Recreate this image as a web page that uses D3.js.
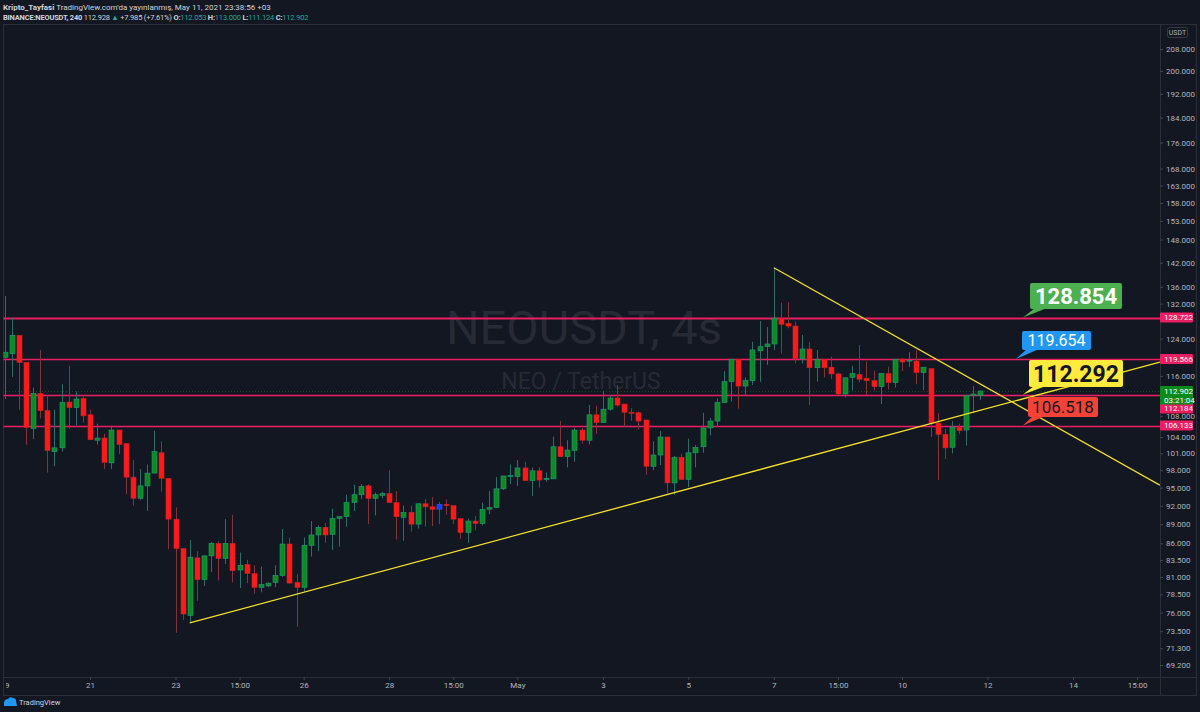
<!DOCTYPE html>
<html><head><meta charset="utf-8">
<script src="https://cdn.jsdelivr.net/npm/d3@7"></script>
<style>
html,body{margin:0;padding:0;background:#131722;}
svg{display:block;font-family:Roboto,"Noto Sans",sans-serif;}
</style></head>
<body><svg id="c" width="1200" height="712"></svg>
<script>
// ---- data (4h candles, BINANCE:NEOUSDT) ----
const firstCandleUTC = Date.UTC(2021, 3, 19, 0); // Apr 19 03:00 (+03)
const opens  = [119.9,120.7,124.7,118.8,105.6,112.4,109.0,101.3,102.0,110.7,109.6,111.4,108.2,103.4,103.8,99.3,105.3,102.8,96.8,93.2,95.3,97.5,101.1,96.6,89.8,85.2,75.6,83.8,80.6,84.1,86.0,83.7,86.0,82.0,82.8,81.5,79.5,79.7,80.2,81.2,85.9,80.2,79.5,85.7,87.3,88.5,87.4,89.9,90.2,92.5,93.8,95.3,93.2,93.7,94.0,92.5,90.1,90.9,89.0,92.3,91.8,91.4,92.2,92.0,89.9,87.7,89.5,89.1,91.4,91.7,94.8,96.9,96.9,98.4,96.2,97.9,96.4,96.5,102.2,100.4,101.5,105.3,103.4,108.2,106.7,109.3,111.5,110.3,108.7,108.6,107.2,98.7,100.7,104.0,95.8,100.3,96.4,101.1,102.2,105.7,107.0,110.6,114.8,119.5,113.9,115.0,121.3,122.2,122.8,128.6,127.4,126.8,119.6,121.7,117.7,119.5,117.8,116.4,112.3,115.7,116.3,115.5,115.0,113.8,116.5,114.6,119.5,119.1,119.1,116.7,117.5,106.6,104.5,102.1,105.8,105.3,112.0,112.053];
const highs  = [133.8,128.7,124.8,118.9,113.6,121.5,112.0,109.2,114.3,118.1,112.8,112.1,109.2,106.5,104.6,106.1,105.3,102.8,99.8,98.2,99.0,105.2,103.2,96.6,91.7,85.2,86.5,84.8,84.1,86.2,86.3,89.8,90.5,84.6,83.5,82.7,82.5,80.2,82.7,88.2,86.9,81.4,86.9,89.5,88.8,89.2,91.5,90.2,93.8,95.5,95.6,95.6,94.2,94.3,98.0,94.4,92.0,92.0,92.4,93.1,93.4,92.6,93.0,92.0,89.9,89.9,90.3,92.5,94.4,96.8,97.0,99.0,99.8,99.5,98.5,98.5,97.6,104.1,107.0,103.4,105.7,105.7,110.1,110.0,112.9,112.0,114.1,110.3,109.5,108.8,107.2,103.2,105.1,104.0,100.5,100.9,103.7,102.5,108.6,107.6,111.4,117.0,119.5,119.5,115.7,123.3,127.9,126.6,140.7,132.2,132.3,127.8,124.8,123.3,121.5,119.5,120.0,116.6,115.6,118.1,122.6,119.0,117.1,116.5,117.9,119.5,119.8,121.0,121.5,117.8,117.6,108.5,105.5,107.0,106.5,112.0,113.9,113.0];
const lows   = [111.3,115.8,109.1,102.6,103.6,107.5,97.6,98.7,101.3,105.5,106.2,106.7,103.4,102.6,98.2,98.2,100.9,93.9,92.0,92.9,91.1,97.5,94.3,85.1,73.3,75.0,74.6,77.6,79.7,81.7,80.5,82.9,80.2,79.4,80.1,78.6,78.8,79.5,79.5,81.0,80.1,74.1,78.9,84.0,84.8,86.1,85.0,85.5,88.6,91.1,93.1,89.0,90.4,93.2,92.5,86.6,86.4,87.8,88.3,88.6,88.7,89.0,90.5,89.0,86.7,86.1,88.0,88.8,90.6,91.6,94.6,95.6,95.3,96.2,93.6,95.0,96.0,96.5,100.4,98.5,99.5,102.8,102.6,104.6,106.7,109.0,109.8,105.9,107.0,105.4,97.2,98.0,98.9,94.0,93.8,96.4,95.1,98.5,101.1,104.3,105.9,110.6,110.8,109.4,112.1,114.1,114.7,118.3,121.5,120.7,126.3,118.6,118.6,110.1,114.8,115.7,115.3,112.1,111.6,113.0,114.7,112.1,113.1,110.3,113.2,113.6,117.0,117.9,114.3,113.1,104.0,96.3,100.0,101.0,104.5,102.4,108.5,111.124];
const closes = [121.0,124.7,118.8,105.8,112.4,109.0,101.5,102.0,110.6,109.6,111.3,108.0,103.5,103.8,99.4,105.3,102.6,96.8,93.2,95.3,97.5,101.3,96.6,89.8,85.2,75.8,83.9,80.6,84.1,86.0,83.7,86.0,81.9,82.7,81.5,79.5,79.9,80.1,81.2,85.9,80.1,79.5,85.7,87.3,88.5,87.3,89.9,90.2,92.5,93.8,95.2,93.2,93.8,94.0,92.5,90.2,90.9,89.0,92.3,91.8,91.4,92.2,92.0,89.8,87.7,89.5,89.1,91.4,91.7,94.8,97.0,97.1,98.4,96.2,97.9,96.3,96.6,102.2,100.4,101.6,105.3,103.4,108.2,106.7,109.3,111.5,110.1,108.7,108.5,107.0,98.7,100.7,104.0,95.8,100.3,96.4,101.1,102.1,105.7,107.0,110.6,114.8,119.5,113.9,115.0,121.5,122.2,122.8,128.6,127.2,126.8,119.6,121.7,117.7,119.5,117.7,116.4,112.3,115.6,116.5,115.3,115.0,113.8,116.5,114.6,119.5,118.9,119.3,116.7,117.8,106.6,104.5,102.0,105.8,105.2,112.0,112.3,112.902];
const blueCandles = [61];

const priceLevels = [128.722, 119.566, 112.184, 106.133];
const lastPrice = 112.902;
const countdown = "03:21:04";
const calloutTexts = ["128.854", "119.654", "112.292", "106.518"];
const calloutFills = ["#4caf50", "#2196f3", "#ffeb3b", "#f44336"];
const calloutInk   = ["#ffffff", "#ffffff", "#131722", "#131722"];

// trend lines: [candle index, price]
const lowerTrend = [[26, 74.6], [162.2, 118.9]];
const upperTrend = [[108, 140.7], [162.2, 95.4]];

const yTicks = [208,200,192,184,176,168,163,158,153,148,142,136,132,124,116,108,104,101,98,95,92,89,86,83.5,81,78.5,76,73.5,71.3,69.2];
const xTickTimes = ["2021-04-19T00:00Z","2021-04-21T00:00Z","2021-04-23T00:00Z","2021-04-24T12:00Z","2021-04-26T00:00Z","2021-04-28T00:00Z","2021-04-29T12:00Z","2021-05-01T00:00Z","2021-05-03T00:00Z","2021-05-05T00:00Z","2021-05-07T00:00Z","2021-05-08T12:00Z","2021-05-10T00:00Z","2021-05-12T00:00Z","2021-05-14T00:00Z","2021-05-15T12:00Z"];
const xTickLabels = ["19","21","23","15:00","26","28","15:00","May","3","5","7","15:00","10","12","14","15:00"];

// ---- layout ----
const W = 1200, H = 712;
const plotL = 3, plotR = 1160, plotT = 24, plotB = 677;
const H4 = 4 * 3600 * 1000;
const candles = opens.map((o, i) => ({i, t: new Date(firstCandleUTC + i * H4), o, h: highs[i], l: lows[i], c: closes[i]}));

const x = d3.scaleUtc()
  .domain([new Date(firstCandleUTC), new Date(firstCandleUTC + 137 * H4)])
  .range([4.55, 980.4]);
const xi = i => x(new Date(firstCandleUTC + i * H4));
const y = d3.scaleLog().domain([208, 69.2]).range([49, 665]);

const svg = d3.select("#c");
svg.append("rect").attr("width", W).attr("height", H).attr("fill", "#131722");

const defs = svg.append("defs");
defs.append("clipPath").attr("id", "plot").append("rect")
  .attr("x", plotL + 0.5).attr("y", plotT).attr("width", plotR - plotL - 0.5).attr("height", plotB - plotT);
defs.append("clipPath").attr("id", "taxis").append("rect")
  .attr("x", plotL + 3).attr("y", plotB).attr("width", plotR - plotL).attr("height", 20);

// header
const hdr = svg.append("g").attr("fill", "#d1d4dc");
const t1 = hdr.append("text").attr("x", 3).attr("y", 10).attr("font-size", 8);
t1.append("tspan").attr("font-weight", "bold").text("Kripto_Tayfasi");
t1.append("tspan").text(" TradingView.com'da yayınlanmış, May 11, 2021 23:38:56 +03");
const t2 = hdr.append("text").attr("x", 3).attr("y", 20).attr("font-size", 7.5).attr("letter-spacing", -0.2);
const green = "#26a69a";
t2.append("tspan").attr("font-weight", "bold").text("BINANCE:NEOUSDT, 240");
t2.append("tspan").text(" 112.928 ");
t2.append("tspan").attr("fill", green).text("▲");
t2.append("tspan").text(" +7.985 (+7.61%) ");
t2.append("tspan").attr("font-weight", "bold").text("O:");
t2.append("tspan").attr("fill", green).text("112.053 ");
t2.append("tspan").attr("font-weight", "bold").text("H:");
t2.append("tspan").attr("fill", green).text("113.000 ");
t2.append("tspan").attr("font-weight", "bold").text("L:");
t2.append("tspan").attr("fill", green).text("111.124 ");
t2.append("tspan").attr("font-weight", "bold").text("C:");
t2.append("tspan").attr("fill", green).text(lastPrice.toFixed(3));

// frame
const frame = svg.append("g").attr("stroke", "#2a2e39").attr("fill", "none");
frame.append("rect").attr("x", plotL + 0.5).attr("y", plotT + 0.5).attr("width", 1196 - plotL).attr("height", 695 - plotT);
frame.append("line").attr("x1", plotR + 0.5).attr("x2", plotR + 0.5).attr("y1", plotT).attr("y2", 695);
frame.append("line").attr("x1", plotL).attr("x2", 1196).attr("y1", plotB + 0.5).attr("y2", plotB + 0.5);

// watermark
const wm = svg.append("g").attr("clip-path", "url(#plot)").attr("text-anchor", "middle").attr("fill", "#262a35");
wm.append("text").attr("x", 584).attr("y", 344).attr("font-size", 47).text("NEOUSDT, 4s");
wm.append("text").attr("x", 581).attr("y", 389).attr("font-size", 23).text("NEO / TetherUS");

const plot = svg.append("g").attr("clip-path", "url(#plot)");

// current price dotted line
plot.append("line").attr("x1", plotL).attr("x2", plotR)
  .attr("y1", Math.round(y(lastPrice)) + 0.5).attr("y2", Math.round(y(lastPrice)) + 0.5)
  .attr("stroke", "#0d4a26").attr("stroke-dasharray", "1,2").attr("stroke-width", 1);

// horizontal levels
plot.selectAll("line.lvl").data(priceLevels).join("line").attr("class", "lvl")
  .attr("x1", plotL).attr("x2", plotR)
  .attr("y1", d => Math.round(y(d)) + 0.5).attr("y2", d => Math.round(y(d)) + 0.5)
  .attr("stroke", "#e91e63").attr("stroke-width", (d, i) => i === 0 ? 2 : 1.5);

// candles
const UP = {body: "#0d8a22", border: "#1f9c7c", wick: "#2f6d6a"};
const DN = {body: "#ff1a1a", border: "#d02020", wick: "#843434"};
const BL = {body: "#1e3cff", border: "#3050ff", wick: "#3a4a8a"};
const cg = plot.append("g");
const cs = cg.selectAll("g").data(candles).join("g");
const sty = d => blueCandles.includes(d.i) ? BL : (d.c >= d.o ? UP : DN);
cs.append("line")
  .attr("x1", d => Math.round(x(d.t)) + 0.5).attr("x2", d => Math.round(x(d.t)) + 0.5)
  .attr("y1", d => y(d.h)).attr("y2", d => y(d.l))
  .attr("stroke", d => sty(d).wick).attr("stroke-width", 1);
cs.append("rect")
  .attr("x", d => Math.round(x(d.t)) - 2)
  .attr("width", 5)
  .attr("y", d => y(Math.max(d.o, d.c)))
  .attr("height", d => Math.max(1, y(Math.min(d.o, d.c)) - y(Math.max(d.o, d.c))))
  .attr("fill", d => sty(d).body).attr("stroke", d => sty(d).border).attr("stroke-width", 0.6);

// trend lines
const tl = d3.line().x(p => xi(p[0])).y(p => y(p[1]));
plot.selectAll("path.trend").data([lowerTrend, upperTrend]).join("path").attr("class", "trend")
  .attr("d", tl).attr("fill", "none").attr("stroke", "#f5e12a").attr("stroke-width", 1.3);

// callouts
const boxes = [
  {x: 1030, y: 283, w: 92, h: 26, fs: 22, tipX: 1023},
  {x: 1022, y: 331, w: 69, h: 19, fs: 16, tipX: 1016},
  {x: 1029, y: 360, w: 94, h: 27, fs: 23, tipX: 1023},
  {x: 1028, y: 397, w: 70, h: 20, fs: 17, tipX: 1023}
];
const co = svg.append("g");
boxes.forEach((b, i) => {
  const tipY = y(priceLevels[i]);
  const g = co.append("g");
  g.append("path")
    .attr("d", `M${b.x + 5},${b.y + b.h - 1} L${b.tipX},${tipY} L${b.x + 17},${b.y + b.h - 1} Z`)
    .attr("fill", calloutFills[i]);
  g.append("rect").attr("x", b.x).attr("y", b.y).attr("width", b.w).attr("height", b.h).attr("rx", 2)
    .attr("fill", calloutFills[i]);
  g.append("text").attr("x", b.x + b.w / 2).attr("y", b.y + b.h / 2).attr("dy", "0.36em")
    .attr("text-anchor", "middle").attr("font-size", b.fs).attr("font-weight", i === 0 || i === 2 ? "bold" : "normal")
    .attr("fill", calloutInk[i]).text(calloutTexts[i]);
});

// y axis
const ya = svg.append("g").attr("transform", `translate(${plotR},0)`)
  .call(d3.axisRight(y).tickValues(yTicks).tickFormat(d => d.toFixed(3)).tickSize(3).tickPadding(3));
ya.select(".domain").remove();
ya.selectAll("line").attr("stroke", "#434651");
ya.selectAll("text").attr("fill", "#b2b5be").attr("font-size", 8).attr("font-family", "Roboto,sans-serif");

// axis price labels
const lbl = svg.append("g").attr("font-size", 8).attr("text-anchor", "start");
const axisTags = [
  {v: priceLevels[0], yc: y(priceLevels[0]), fill: "#e91e63"},
  {v: priceLevels[1], yc: y(priceLevels[1]), fill: "#e91e63"},
  {v: priceLevels[2], yc: y(lastPrice) + 17.5, fill: "#e91e63"},
  {v: priceLevels[3], yc: y(priceLevels[3]), fill: "#e91e63"}
];
axisTags.forEach(t => {
  lbl.append("rect").attr("x", plotR).attr("y", t.yc - 5).attr("width", 33).attr("height", 10).attr("rx", 1).attr("fill", t.fill);
  lbl.append("text").attr("x", plotR + 4).attr("y", t.yc).attr("dy", "0.35em").attr("fill", "#fff").text(t.v.toFixed(3));
});
const yl = y(lastPrice);
lbl.append("rect").attr("x", plotR).attr("y", yl - 5).attr("width", 33).attr("height", 18.5).attr("rx", 1).attr("fill", "#0b8a1c");
lbl.append("text").attr("x", plotR + 4).attr("y", yl).attr("dy", "0.35em").attr("fill", "#fff").text(lastPrice.toFixed(3));
lbl.append("text").attr("x", plotR + 4).attr("y", yl + 9).attr("dy", "0.35em").attr("fill", "#fff").text(countdown);

// USDT box
svg.append("rect").attr("x", 1167.5).attr("y", 27.5).attr("width", 20).attr("height", 10).attr("rx", 2)
  .attr("fill", "#131722").attr("stroke", "#363a45");
svg.append("text").attr("x", 1177.5).attr("y", 32.5).attr("dy", "0.35em").attr("text-anchor", "middle")
  .attr("font-size", 7).attr("fill", "#b2b5be").text("USDT");

// x axis (clip wrapper without transform)
const xwrap = svg.append("g").attr("clip-path", "url(#taxis)");
const xa = xwrap.append("g").attr("transform", `translate(0,${plotB})`)
  .call(d3.axisBottom(x).tickValues(xTickTimes.map(s => new Date(s))).tickFormat((d, i) => xTickLabels[i]).tickSize(3).tickPadding(2));
xa.select(".domain").remove();
xa.selectAll("line").attr("stroke", "#434651");
xa.selectAll("text").attr("fill", "#b2b5be").attr("font-size", 8).attr("font-family", "Roboto,sans-serif");

// footer logo
const ft = svg.append("g");
ft.append("path").attr("d", "M4,706 L4,702 Q5,699 8,699 Q10,696 13,698 Q16,698 16,701 L17,706 Z").attr("fill", "#2196f3");
ft.append("text").attr("x", 19).attr("y", 705).attr("font-size", 7.5).attr("fill", "#d1d4dc").text("TradingView");
</script></body></html>
